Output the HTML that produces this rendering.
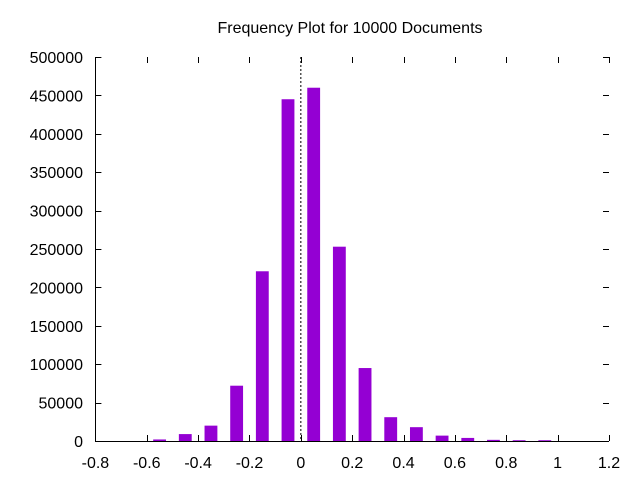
<!DOCTYPE html>
<html><head><meta charset="utf-8"><style>
body{margin:0;background:#fff}
svg text{font-family:"Liberation Sans",sans-serif;font-size:16px;fill:#000}
</style></head><body>
<svg id="c" width="640" height="480" xmlns="http://www.w3.org/2000/svg">
<text x="350" y="33" text-anchor="middle">Frequency Plot for 10000 Documents</text>
<g id="axes"></g><g id="bars"></g>
</svg>
<script>
const binCenters=[-0.55,-0.45,-0.35,-0.25,-0.15,-0.05,0.05,0.15,0.25,0.35,0.45,0.55,0.65,0.75,0.85,0.95];
const counts=[2000,9000,20000,72000,221000,445000,460000,253000,95000,31000,18000,7000,4000,1500,1000,1000];
const xTicks=[-0.8,-0.6,-0.4,-0.2,0,0.2,0.4,0.6,0.8,1,1.2];
const yTicks=[0,50000,100000,150000,200000,250000,300000,350000,400000,450000,500000];
const L=95.4,R=609,T=57,B=441,xmin=-0.8,xmax=1.2,ymax=500000,barW=0.05;
const X=v=>L+(v-xmin)/(xmax-xmin)*(R-L);
const Y=v=>B-v/ymax*(B-T);
const NS="http://www.w3.org/2000/svg";
function mk(tag,at,parent){const e=document.createElementNS(NS,tag);for(const k in at)e.setAttribute(k,at[k]);parent.appendChild(e);return e;}
const ax=document.getElementById('axes'),bg=document.getElementById('bars');
counts.forEach((c,i)=>{
  const r=mk('rect',{x:X(binCenters[i]-barW/2),y:Y(c),width:X(binCenters[i]+barW/2)-X(binCenters[i]-barW/2),height:B-Y(c),fill:'#9400d3'},bg);
  
  
});
const base=mk('line',{x1:L,y1:B+0.5,x2:R,y2:B+0.5,stroke:'#000','stroke-width':1},ax);


const lb=mk('line',{x1:Math.round(L)+0.5,y1:T,x2:Math.round(L)+0.5,y2:B+1,stroke:'#000','stroke-width':1},ax);


const z=mk('line',{x1:X(0),y1:T,x2:X(0),y2:B,stroke:'#000','stroke-width':1,'stroke-dasharray':'2,2'},ax);


xTicks.forEach(v=>{
  const x=Math.round(X(v))+0.5;
  mk('line',{x1:x,y1:B,x2:x,y2:B-6,stroke:'#000'},ax);
  mk('line',{x1:x,y1:T,x2:x,y2:T+6,stroke:'#000'},ax);
  const t=mk('text',{x:X(v),y:468,'text-anchor':'middle'},ax);
  t.textContent=String(v);
  
  
});
yTicks.forEach(v=>{
  const y=Math.round(Y(v))+0.5;
  mk('line',{x1:L,y1:y,x2:L+6,y2:y,stroke:'#000'},ax);
  mk('line',{x1:R,y1:y,x2:R-6,y2:y,stroke:'#000'},ax);
  const t=mk('text',{x:83,y:Y(v)+6,'text-anchor':'end'},ax);
  t.textContent=String(v);
  
  
});
</script>
</body></html>
